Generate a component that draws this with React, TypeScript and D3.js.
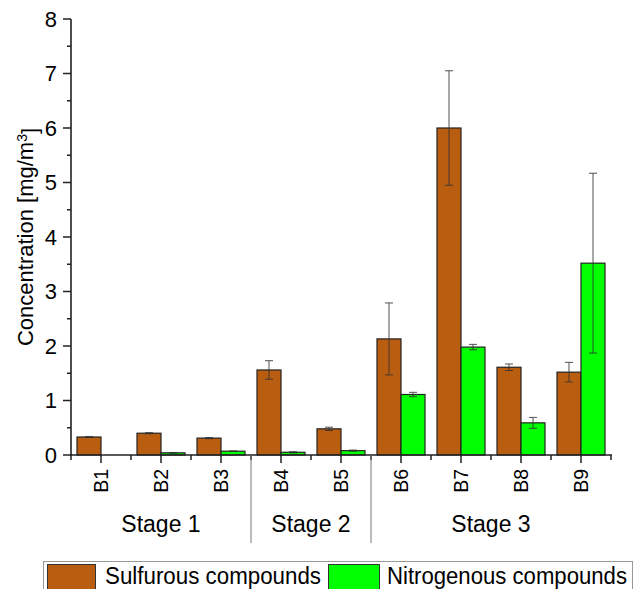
import React from "react";
import * as d3 from "d3";

const categories = ["B1", "B2", "B3", "B4", "B5", "B6", "B7", "B8", "B9"];
const sulfurous = [0.33, 0.4, 0.31, 1.56, 0.48, 2.13, 6.0, 1.61, 1.52];
const sulfurousErr = [0.01, 0.01, 0.01, 0.17, 0.03, 0.66, 1.05, 0.06, 0.18];
const nitrogenous = [0, 0.04, 0.07, 0.05, 0.08, 1.11, 1.98, 0.59, 3.52];
const nitrogenousErr = [0, 0.005, 0.005, 0.01, 0.01, 0.04, 0.05, 0.1, 1.65];
const stages = [
  { label: "Stage 1", from: "B1", to: "B3" },
  { label: "Stage 2", from: "B4", to: "B5" },
  { label: "Stage 3", from: "B6", to: "B9" },
];
const seriesNames = ["Sulfurous compounds", "Nitrogenous compounds"];
const seriesColors = ["#B95E10", "#00FF00"];
const yTicks = [0, 1, 2, 3, 4, 5, 6, 7, 8];
const yMinorTicks = [0.5, 1.5, 2.5, 3.5, 4.5, 5.5, 6.5, 7.5];

const W = 640;
const H = 589;
const FONT = "'Liberation Sans', Arial, Helvetica, sans-serif";

export default function App() {
  const x = d3.scaleBand<string>().domain(categories).range([71, 611]).padding(0);
  const y = d3.scaleLinear().domain([0, 8]).range([455, 19]);
  const barW = 24;
  const y0 = y(0);
  const axisColor = "#222";

  const series = [
    { vals: sulfurous, errs: sulfurousErr, offset: -barW, color: seriesColors[0] },
    { vals: nitrogenous, errs: nitrogenousErr, offset: 0, color: seriesColors[1] },
  ];

  const boundaries = categories.map((c) => x(c)!).concat([x(categories[categories.length - 1])! + x.bandwidth()]);

  return (
    <svg
      width={W}
      height={H}
      style={{ position: "absolute", left: 0, top: 0, display: "block", background: "#fff" }}
      fontFamily={FONT}
    >
      <rect x={0} y={0} width={W} height={H} fill="#fff" />
      {/* bars */}
      {series.map((s, si) =>
        categories.map((c, i) => {
          const cx = x(c)! + x.bandwidth() / 2;
          const v = s.vals[i];
          if (v <= 0) return null;
          return (
            <rect
              key={`b${si}-${i}`}
              x={cx + s.offset}
              y={y(v)}
              width={barW}
              height={y0 - y(v)}
              fill={s.color}
              stroke="#222"
              strokeWidth={1.2}
            />
          );
        })
      )}
      {/* error bars */}
      {series.map((s, si) =>
        categories.map((c, i) => {
          const v = s.vals[i];
          const e = s.errs[i];
          if (v <= 0 || e <= 0) return null;
          const ex = x(c)! + x.bandwidth() / 2 + s.offset + barW / 2;
          const yt = y(v + e);
          const yb = y(v - e);
          return (
            <g key={`e${si}-${i}`} stroke="#333" strokeWidth={1} opacity={0.85}>
              <line x1={ex} x2={ex} y1={yt} y2={yb} />
              <line x1={ex - 4} x2={ex + 4} y1={yt} y2={yt} />
              <line x1={ex - 4} x2={ex + 4} y1={yb} y2={yb} />
            </g>
          );
        })
      )}
      {/* y axis */}
      <line x1={71} x2={71} y1={y(8)} y2={y0 + 1} stroke={axisColor} strokeWidth={1.6} />
      {yTicks.map((t) => (
        <g key={`yt${t}`}>
          <line x1={63} x2={71} y1={y(t)} y2={y(t)} stroke={axisColor} strokeWidth={1.5} />
          <text x={57} y={y(t)} dy="0.36em" textAnchor="end" fontSize={22} fill="#000">
            {t}
          </text>
        </g>
      ))}
      {yMinorTicks.map((t) => (
        <line key={`ym${t}`} x1={67} x2={71} y1={y(t)} y2={y(t)} stroke={axisColor} strokeWidth={1.5} />
      ))}
      {/* x axis */}
      <line x1={70} x2={612} y1={y0} y2={y0} stroke={axisColor} strokeWidth={1.6} />
      {boundaries.map((b, i) => (
        <line key={`xm${i}`} x1={b} x2={b} y1={y0} y2={y0 + 5} stroke={axisColor} strokeWidth={1.5} />
      ))}
      {categories.map((c) => {
        const cx = x(c)! + x.bandwidth() / 2;
        return (
          <g key={`xt${c}`}>
            <line x1={cx} x2={cx} y1={y0} y2={y0 + 8} stroke={axisColor} strokeWidth={1.5} />
            <text
              transform={`translate(${cx + 7},469) rotate(-90)`}
              textAnchor="end"
              fontSize={19.5}
              fill="#000"
            >
              {c}
            </text>
          </g>
        );
      })}
      {/* stage separators and labels */}
      {stages.slice(1).map((s) => {
        const bx = x(s.from)!;
        return <line key={`sep${s.label}`} x1={bx} x2={bx} y1={y0} y2={543} stroke="#777" strokeWidth={1} />;
      })}
      {stages.map((s) => {
        const x1 = x(s.from)!;
        const x2 = x(s.to)! + x.bandwidth();
        return (
          <text key={s.label} x={(x1 + x2) / 2} y={532} textAnchor="middle" fontSize={23} fill="#000">
            {s.label}
          </text>
        );
      })}
      {/* y label */}
      <text transform={`translate(33,237) rotate(-90)`} textAnchor="middle" fontSize={22} fill="#000">
        Concentration [mg/m
        <tspan dy="-0.45em" fontSize={14}>3</tspan>
        <tspan dy="0.45em">]</tspan>
      </text>
      {/* legend */}
      <rect x={43.5} y={561.5} width={589} height={40} fill="#fff" stroke="#999" strokeWidth={1} />
      <rect x={47.5} y={564.5} width={48} height={32} fill={seriesColors[0]} stroke="#333" strokeWidth={1} />
      <text x={105} y={584} fontSize={23} fill="#000" textLength={216} lengthAdjust="spacingAndGlyphs">
        {seriesNames[0]}
      </text>
      <rect x={328.5} y={564.5} width={51} height={32} fill={seriesColors[1]} stroke="#333" strokeWidth={1} />
      <text x={387} y={584} fontSize={23} fill="#000" textLength={240} lengthAdjust="spacingAndGlyphs">
        {seriesNames[1]}
      </text>
    </svg>
  );
}
